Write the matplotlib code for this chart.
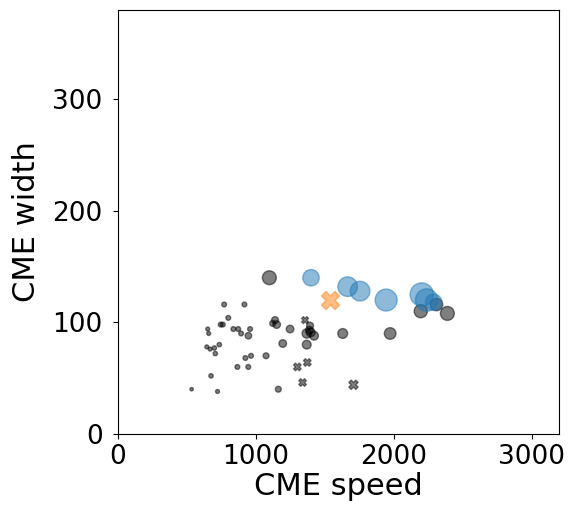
import numpy as np
from matplotlib import pyplot as plt

# background events (grey circles)
bg_speed = [770, 917, 800, 745, 760, 651, 658, 837, 872, 893, 958, 946,
            644, 668, 699, 735, 706, 965, 924, 1074, 866, 945, 675, 534,
            722, 1151, 1163, 1139, 1122, 1248, 1393, 1369, 1398, 1422, 1388,
            1630, 1195, 1369, 1098, 2196, 2389, 1974, 2310]
bg_width = [116, 116, 104, 98, 98, 94, 90, 94, 94, 90, 94, 88,
            78, 76, 77, 80, 72, 70, 68, 70, 60, 60, 52, 40,
            38, 98, 40, 102, 99, 94, 97, 90, 91, 88, 93,
            90, 81, 80, 140, 110, 108, 90, 116]
bg_size = [12, 12, 12, 12, 12, 8, 8, 12, 12, 12, 12, 22,
           8, 8, 10, 10, 10, 12, 12, 18, 12, 12, 10, 6,
           8, 30, 18, 25, 18, 30, 25, 45, 40, 40, 30,
           50, 30, 40, 100, 90, 100, 70, 80]

# background events (grey crosses)
bgx_speed = [1357, 1301, 1373, 1339, 1708]
bgx_width = [102, 60, 64, 46, 44]
bgx_size = [25, 30, 30, 30, 45]

# highlighted events
hl_speed = [1400, 1666, 1756, 1945, 2203, 2239, 2290]
hl_width = [140, 132, 128, 120, 125, 120, 118]
hl_size = [140, 200, 200, 250, 280, 260, 140]

cross_speed = [1538]
cross_width = [120]
cross_size = [170]

plt.rcParams['font.size'] = 19

fig = plt.figure(figsize=(5.7, 5.08), dpi=100)
ax = fig.add_axes([0.207, 0.146, 0.774, 0.834])

ax.scatter(bg_speed, bg_width, s=bg_size, c='black', alpha=0.5, marker='o')
ax.scatter(bgx_speed, bgx_width, s=bgx_size, c='black', alpha=0.5, marker='X')
ax.scatter(hl_speed, hl_width, s=hl_size, c='tab:blue', alpha=0.5, marker='o')
ax.scatter(cross_speed, cross_width, s=cross_size, c='tab:orange', alpha=0.5, marker='X')

ax.set_xlim(0, 3200)
ax.set_ylim(0, 380)
ax.set_xticks([0, 1000, 2000, 3000])
ax.set_yticks([0, 100, 200, 300])
ax.tick_params(axis='y', pad=7.5)
ax.set_xlabel("CME speed", fontsize=22, labelpad=2)
ax.set_ylabel("CME width", fontsize=22, labelpad=8)

fig.savefig("out.png")
